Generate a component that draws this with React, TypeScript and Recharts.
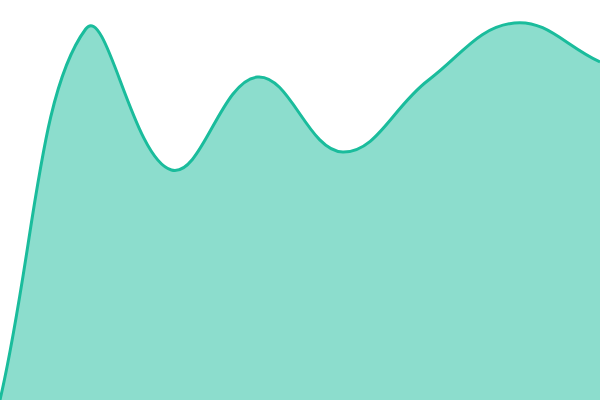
import { AreaChart, Area, XAxis, YAxis } from 'recharts';

// one value per slot (0..100 scale)
const slots = ['a', 'b', 'c', 'd', 'e', 'f', 'g', 'h'];
const levels = [0, 92.75, 57.5, 80.75, 62, 80, 94.25, 84.5];

const chartData = slots.map((slot, i) => ({ slot, level: levels[i] }));

const W = 600;
const H = 400;

// distance-weighted spline (tension 0.4), the same kind of smoothing the
// reference was drawn with; recharts has no built-in name for it
const TENSION = 0.4;

function smoothCurve(context: any) {
  let line = NaN;
  let pts: number[][] = [];
  const cap = (v: number, max: number) => Math.max(0, Math.min(max, v));
  return {
    areaStart() { line = 0; },
    areaEnd() { line = NaN; },
    lineStart() { pts = []; },
    point(x: number, y: number) { pts.push([+x, +y]); },
    lineEnd() {
      const n = pts.length;
      if (n) {
        const [x0, y0] = pts[0];
        if (line) context.lineTo(x0, y0); else context.moveTo(x0, y0);
        const before: number[][] = [];
        const after: number[][] = [];
        for (let i = 0; i < n; i++) {
          const p = pts[i];
          const prev = pts[i - 1] || p;
          const next = pts[i + 1] || p;
          const d01 = Math.hypot(p[0] - prev[0], p[1] - prev[1]);
          const d12 = Math.hypot(next[0] - p[0], next[1] - p[1]);
          let s01 = d01 / (d01 + d12);
          let s12 = d12 / (d01 + d12);
          if (isNaN(s01)) s01 = 0;
          if (isNaN(s12)) s12 = 0;
          const fa = TENSION * s01;
          const fb = TENSION * s12;
          const dx = next[0] - prev[0];
          const dy = next[1] - prev[1];
          before.push([cap(p[0] - fa * dx, W), cap(p[1] - fa * dy, H)]);
          after.push([cap(p[0] + fb * dx, W), cap(p[1] + fb * dy, H)]);
        }
        for (let i = 0; i < n - 1; i++) {
          context.bezierCurveTo(
            after[i][0], after[i][1],
            before[i + 1][0], before[i + 1][1],
            pts[i + 1][0], pts[i + 1][1]
          );
        }
      }
      if (line || (line !== 0 && n === 1)) context.closePath();
      line = 1 - line;
    },
  };
}

export default function App() {
  return (
    <div style={{ position: 'absolute', left: 0, top: 0 }}>
      <AreaChart
        width={W}
        height={H}
        data={chartData}
        margin={{ top: 0, right: 0, left: 0, bottom: 0 }}
      >
        <XAxis dataKey="slot" hide />
        <YAxis domain={[0, 100]} hide />
        <Area
          type={smoothCurve as any}
          dataKey="level"
          stroke="#1abc9c"
          strokeWidth={3}
          fill="#1abc9c"
          fillOpacity={0.5}
          dot={false}
          activeDot={false}
          isAnimationActive={false}
        />
      </AreaChart>
    </div>
  );
}
